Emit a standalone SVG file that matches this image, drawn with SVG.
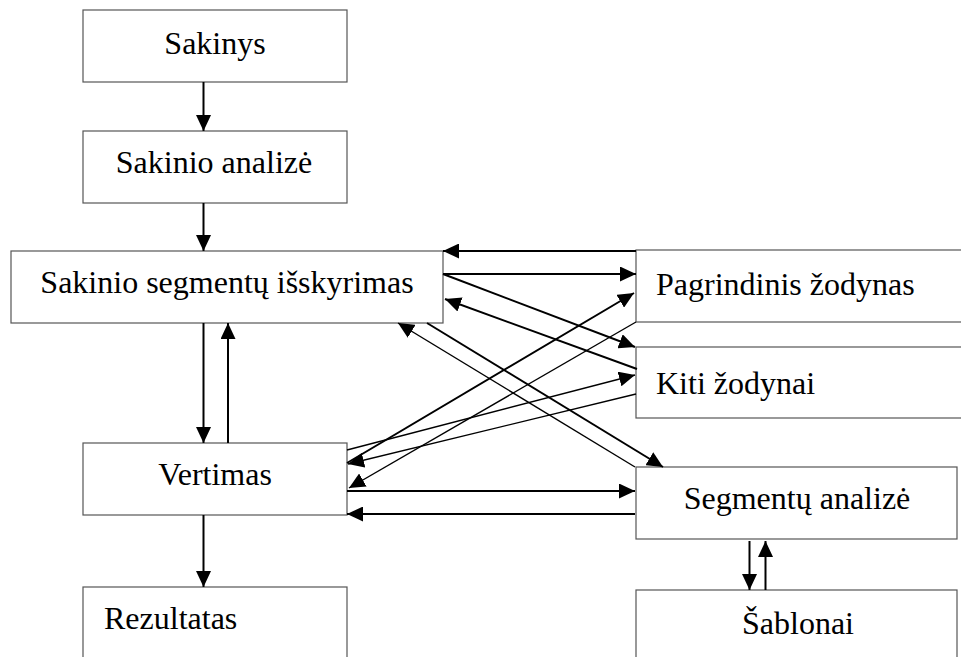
<svg xmlns="http://www.w3.org/2000/svg" width="961" height="657" viewBox="0 0 961 657">
  <defs>
    <style>
      .box { fill: #ffffff; stroke: #555555; stroke-width: 1.2; }
      .lbl { font-family: "Liberation Serif", "Times New Roman", serif; font-size: 32px; fill: #000000; }
      .mid { text-anchor: middle; }
      .c { stroke: #000000; fill: none; marker-end: url(#arrow); }
      .thick { stroke-width: 2; }
      .thin { stroke-width: 1.4; }
    </style>
    <marker id="arrow" markerUnits="userSpaceOnUse" markerWidth="17" markerHeight="15" refX="16" refY="7.5" orient="auto">
      <path d="M0,0 L16,7.5 L0,15 z" fill="#000000"/>
    </marker>
  </defs>

  <rect width="961" height="657" fill="#ffffff"/>

  <g id="node-sakinys">
    <rect class="box" x="83" y="10" width="264" height="72"/>
    <text class="lbl mid" x="215" y="54">Sakinys</text>
  </g>
  <g id="node-sakinio-analize">
    <rect class="box" x="83" y="131" width="264" height="72"/>
    <text class="lbl mid" x="214" y="173">Sakinio analizė</text>
  </g>
  <g id="node-segmentu-isskyrimas">
    <rect class="box" x="11" y="251" width="432" height="72"/>
    <text class="lbl mid" x="227" y="293">Sakinio segmentų išskyrimas</text>
  </g>
  <g id="node-vertimas">
    <rect class="box" x="83" y="443" width="264" height="72"/>
    <text class="lbl mid" x="215" y="485">Vertimas</text>
  </g>
  <g id="node-rezultatas">
    <rect class="box" x="83" y="587" width="264" height="90"/>
    <text class="lbl" x="104" y="629">Rezultatas</text>
  </g>
  <g id="node-pagrindinis-zodynas">
    <rect class="box" x="636" y="250" width="400" height="72"/>
    <text class="lbl" x="656" y="295">Pagrindinis žodynas</text>
  </g>
  <g id="node-kiti-zodynai">
    <rect class="box" x="636" y="347" width="400" height="71"/>
    <text class="lbl" x="656" y="394">Kiti žodynai</text>
  </g>
  <g id="node-segmentu-analize">
    <rect class="box" x="636" y="467" width="321" height="72"/>
    <text class="lbl mid" x="797" y="509">Segmentų analizė</text>
  </g>
  <g id="node-sablonai">
    <rect class="box" x="636" y="590" width="321" height="100"/>
    <text class="lbl mid" x="798" y="634">Šablonai</text>
  </g>

  <g id="connectors">
    <!-- main vertical flow -->
    <line class="c thick" x1="203.5" y1="82" x2="203.5" y2="131"/>
    <line class="c thick" x1="203.5" y1="203" x2="203.5" y2="251"/>
    <line class="c thick" x1="203.5" y1="323" x2="203.5" y2="443"/>
    <line class="c thick" x1="228" y1="443" x2="228" y2="323"/>
    <line class="c thick" x1="203.5" y1="515" x2="203.5" y2="587"/>

    <!-- segment extraction <-> dictionaries -->
    <line class="c thick" x1="636" y1="251" x2="443" y2="251"/>
    <line class="c thick" x1="443" y1="274" x2="636" y2="274"/>
    <line class="c thick" x1="443" y1="274" x2="635" y2="347"/>
    <line class="c thick" x1="637" y1="369" x2="445" y2="299"/>

    <!-- translation <-> dictionaries -->
    <line class="c thick" x1="347" y1="463" x2="634" y2="293"/>
    <line class="c thin" x1="636" y1="322" x2="349" y2="488"/>
    <line class="c thin" x1="347" y1="450" x2="635" y2="375"/>
    <line class="c thin" x1="636" y1="394" x2="348" y2="464"/>

    <!-- segment extraction <-> segment analysis -->
    <line class="c thin" x1="635" y1="467" x2="398" y2="323"/>
    <line class="c thick" x1="427" y1="323" x2="663" y2="467"/>

    <!-- translation <-> segment analysis -->
    <line class="c thick" x1="347" y1="491" x2="635" y2="491"/>
    <line class="c thick" x1="635" y1="514" x2="347" y2="514"/>

    <!-- segment analysis <-> templates -->
    <line class="c thick" x1="749.5" y1="541" x2="749.5" y2="590"/>
    <line class="c thick" x1="765.5" y1="590" x2="765.5" y2="541"/>
  </g>
</svg>
